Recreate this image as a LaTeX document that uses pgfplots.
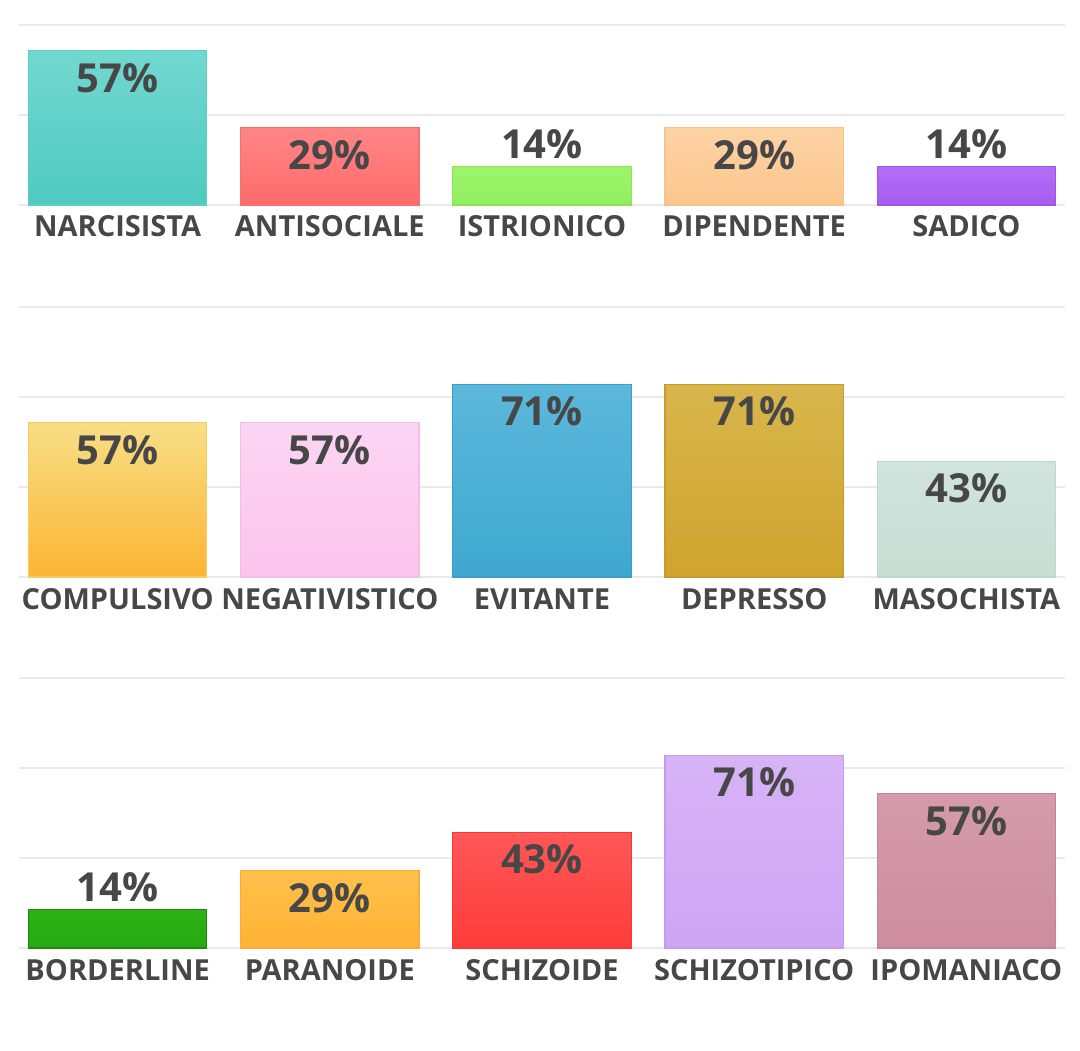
\documentclass[border=0pt]{standalone}
\usepackage{pgfplots}
\pgfplotsset{compat=1.18}
\usepackage{fontspec}
\setmainfont{Open Sans}

\definecolor{labgray}{HTML}{474747}
\definecolor{gridgray}{HTML}{EAEAEA}
% bar colours: top, bottom, edge
\definecolor{aT}{HTML}{72D8D0}\definecolor{aB}{HTML}{4ECAC1}\definecolor{aE}{HTML}{5ACFC6}
\definecolor{bT}{HTML}{FF8585}\definecolor{bB}{HTML}{FF6B6B}\definecolor{bE}{HTML}{F57070}
\definecolor{cT}{HTML}{9EF56C}\definecolor{cB}{HTML}{92EE5E}\definecolor{cE}{HTML}{8EE35A}
\definecolor{dT}{HTML}{FDD3A4}\definecolor{dB}{HTML}{FCC68E}\definecolor{dE}{HTML}{F7C28C}
\definecolor{eT}{HTML}{B36EF6}\definecolor{eB}{HTML}{A65CF0}\definecolor{eE}{HTML}{9E55E6}
\definecolor{fT}{HTML}{F8DE86}\definecolor{fB}{HTML}{FBB533}\definecolor{fE}{HTML}{F4CC60}
\definecolor{gT}{HTML}{FCD5F3}\definecolor{gB}{HTML}{FBC4EC}\definecolor{gE}{HTML}{F5BDE6}
\definecolor{hT}{HTML}{5BB8DB}\definecolor{hB}{HTML}{3FA8CF}\definecolor{hE}{HTML}{3A9FC6}
\definecolor{iT}{HTML}{D8B64C}\definecolor{iB}{HTML}{CFA42E}\definecolor{iE}{HTML}{C79D2A}
\definecolor{jT}{HTML}{D0E4DD}\definecolor{jB}{HTML}{C7DED5}\definecolor{jE}{HTML}{BFD8CF}
\definecolor{kT}{HTML}{2EB016}\definecolor{kB}{HTML}{26AA12}\definecolor{kE}{HTML}{1C8A0C}
\definecolor{lT}{HTML}{FFC04C}\definecolor{lB}{HTML}{FFB233}\definecolor{lE}{HTML}{F5AE3A}
\definecolor{mT}{HTML}{FF5757}\definecolor{mB}{HTML}{FF3B3B}\definecolor{mE}{HTML}{F23A3A}
\definecolor{nT}{HTML}{D7B3F6}\definecolor{nB}{HTML}{CEA5F4}\definecolor{nE}{HTML}{C49CEB}
\definecolor{oT}{HTML}{D59BAA}\definecolor{oB}{HTML}{CD8D9F}\definecolor{oE}{HTML}{C28597}

\pgfplotsset{
  rowstyle/.style={
    scale only axis, width=523pt,
    xmin=-0.465, xmax=4.465, ymin=0,
    axis line style={draw=none}, tick style={draw=none},
    ymajorgrids, grid style={gridgray, line width=1.3pt},
    yticklabels={}, xtick={0,...,4},
    xticklabel style={font=\bfseries\fontsize{14.5}{15}\selectfont,
      text=labgray, anchor=base, yshift=-16pt},
    clip=false,
  },
  mybar/.style={
    ybar, bar width=0.84, bar shift=0pt,
    top color=#1T, bottom color=#1B, draw=#1E, line width=0.6pt,
    point meta=y,
    nodes near coords={\pgfmathprintnumber[fixed,precision=0,assume math mode=true]{\pgfplotspointmeta}\%},
    every node near coord/.append style={
      font=\bfseries\fontsize{20}{21}\selectfont, text=labgray},
  },
  inlab/.style={every node near coord/.append style={anchor=center, yshift=-13.5pt}},
  outlab/.style={every node near coord/.append style={anchor=center, yshift=11pt}},
}

\begin{document}
\begin{tikzpicture}
\useasboundingbox (0,0) rectangle (540pt,525pt);

% row 1
\begin{axis}[rowstyle, at={(9.5pt,422.5pt)}, anchor=south west, height=90pt,
  ymax=66.67, ytick={0,33.33,66.67},
  xticklabels={NARCISISTA,ANTISOCIALE,ISTRIONICO,DIPENDENTE,SADICO}]
  \addplot[mybar=a, inlab] coordinates {(0,57.14)};
  \addplot[mybar=b, inlab] coordinates {(1,28.57)};
  \addplot[mybar=c, outlab] coordinates {(2,14.29)};
  \addplot[mybar=d, inlab] coordinates {(3,28.57)};
  \addplot[mybar=e, outlab] coordinates {(4,14.29)};
\end{axis}

% row 2
\begin{axis}[rowstyle, at={(9.5pt,236.5pt)}, anchor=south west, height=135pt,
  ymax=100, ytick={0,33.33,66.67,100},
  xticklabels={COMPULSIVO,NEGATIVISTICO,EVITANTE,DEPRESSO,MASOCHISTA}]
  \addplot[mybar=f, inlab] coordinates {(0,57.14)};
  \addplot[mybar=g, inlab] coordinates {(1,57.14)};
  \addplot[mybar=h, inlab] coordinates {(2,71.43)};
  \addplot[mybar=i, inlab] coordinates {(3,71.43)};
  \addplot[mybar=j, inlab] coordinates {(4,42.86)};
\end{axis}

% row 3
\begin{axis}[rowstyle, at={(9.5pt,51pt)}, anchor=south west, height=135pt,
  ymax=100, ytick={0,33.33,66.67,100},
  xticklabels={BORDERLINE,PARANOIDE,SCHIZOIDE,SCHIZOTIPICO,IPOMANIACO}]
  \addplot[mybar=k, outlab] coordinates {(0,14.29)};
  \addplot[mybar=l, inlab] coordinates {(1,28.57)};
  \addplot[mybar=m, inlab] coordinates {(2,42.86)};
  \addplot[mybar=n, inlab] coordinates {(3,71.43)};
  \addplot[mybar=o, inlab] coordinates {(4,57.14)};
\end{axis}
\end{tikzpicture}
\end{document}
